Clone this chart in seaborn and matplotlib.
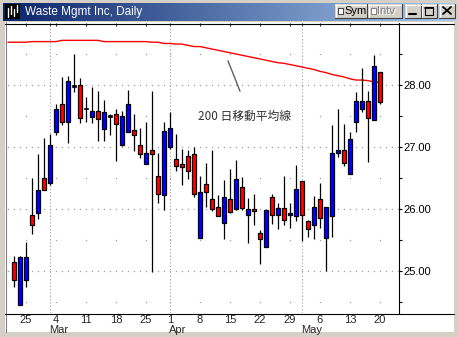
import matplotlib
matplotlib.use('Agg')
import matplotlib.pyplot as plt
import matplotlib.patches as mpatches
from matplotlib.lines import Line2D
import numpy as np
import pandas as pd
import seaborn as sns

# trading days Feb 20 - May 20 2002 (market shut on Good Friday)
days = pd.bdate_range('2002-02-20', '2002-05-20').drop(pd.Timestamp('2002-03-29'))
candle_days = days[1:]

opens = [25.14, 24.45, 24.85, 25.90, 25.94, 26.50, 26.42, 27.25, 27.69, 27.41,
         27.99, 28.00, 27.62, 27.49, 27.58, 27.29, 27.50, 27.54, 27.04, 27.25,
         27.27, 27.04, 26.72, 26.95, 26.54, 26.22, 27.00, 26.80, 26.72, 26.85,
         26.88, 25.54, 26.40, 26.16, 26.04, 25.78, 26.16, 26.00, 26.35, 25.90,
         26.00, 25.62, 25.38, 26.20, 25.91, 26.01, 25.90, 25.88, 26.45, 25.81,
         25.75, 26.16, 25.54, 25.89, 26.91, 26.95, 26.57, 27.40, 27.61, 27.74,
         27.43, 28.21]
highs = [25.24, 25.24, 25.47, 26.50, 26.89, 27.15, 27.21, 27.69, 28.13, 28.15,
         28.50, 28.11, 27.81, 27.97, 27.90, 27.76, 27.54, 27.61, 27.58, 27.92,
         27.54, 27.31, 27.40, 27.90, 26.90, 27.40, 27.57, 27.21, 26.96, 26.95,
         27.00, 26.54, 26.75, 26.95, 26.22, 26.47, 26.65, 26.79, 26.52, 26.17,
         26.25, 25.66, 25.98, 26.24, 26.09, 26.54, 26.09, 26.71, 26.45, 25.82,
         26.21, 26.42, 26.04, 27.35, 27.62, 27.37, 27.24, 27.89, 28.27, 27.90,
         28.48, 28.21]
lows = [24.75, 24.45, 24.75, 25.59, 25.84, 26.30, 26.38, 27.20, 27.36, 27.07,
        27.88, 27.39, 27.41, 27.39, 27.09, 27.10, 27.20, 26.78, 27.02, 27.25,
        26.94, 26.83, 26.72, 24.99, 26.09, 25.99, 26.97, 26.62, 26.39, 26.49,
        26.20, 25.54, 26.04, 25.96, 25.88, 25.51, 25.93, 25.98, 25.98, 25.45,
        25.75, 25.11, 25.38, 25.76, 25.68, 25.75, 25.70, 25.80, 25.48, 25.55,
        25.52, 25.70, 25.00, 25.55, 26.84, 26.70, 26.57, 27.25, 27.56, 26.76,
        27.43, 27.70]
closes = [24.85, 25.22, 25.22, 25.75, 26.30, 26.30, 27.03, 27.62, 27.41, 28.06,
          27.99, 27.46, 27.62, 27.58, 27.45, 27.56, 27.50, 27.37, 27.50, 27.69,
          27.20, 26.88, 26.90, 26.88, 26.24, 27.26, 27.30, 26.70, 26.67, 26.62,
          26.25, 26.28, 26.28, 26.00, 25.88, 26.20, 25.95, 26.48, 26.01, 26.00,
          25.96, 25.51, 25.98, 25.90, 26.01, 25.83, 25.94, 26.33, 25.90, 25.67,
          26.04, 25.85, 26.04, 26.91, 26.95, 26.75, 27.13, 27.74, 27.74, 27.46,
          28.31, 27.72]
# 200-day moving average, one value per day in `days`
ma200 = [28.69, 28.69, 28.69, 28.69, 28.70, 28.70, 28.70, 28.70, 28.70,
         28.72, 28.72, 28.72, 28.72, 28.72, 28.72, 28.72,
         28.70, 28.70, 28.70, 28.70, 28.70, 28.70, 28.70, 28.70,
         28.69, 28.69, 28.67, 28.67, 28.66, 28.66, 28.64, 28.62, 28.62, 28.60,
         28.58, 28.56, 28.54, 28.52, 28.50, 28.48, 28.46, 28.44, 28.42, 28.40,
         28.38, 28.36, 28.35, 28.33, 28.31, 28.29, 28.27, 28.25, 28.22, 28.20,
         28.17, 28.15, 28.13, 28.10, 28.08, 28.08, 28.07, 28.05, 28.04]

price_ticks = [25, 26, 27, 28]
title = 'Waste Mgmt Inc, Daily'
note = '200 日移動平均線'

W, H = 458, 337
UP, DOWN = '#0000FF', '#FF0000'
GRID = '#A0A0A0'
FACE = '#D4D0C8'

sns.set_style('white')
plt.rcParams['font.family'] = ['Liberation Sans', 'DejaVu Sans']

fig = plt.figure(figsize=(W / 100, H / 100), dpi=100)
fig.patch.set_facecolor(FACE)


def fx(x):
    return x / W


def fy(y):
    return 1 - y / H


def box(x0, y0, x1, y1, z=5, **kw):
    fig.add_artist(mpatches.Rectangle((fx(x0), fy(y1)), (x1 - x0) / W, (y1 - y0) / H,
                                      transform=fig.transFigure, zorder=z, **kw))


def line(xs, ys, z=6, **kw):
    fig.add_artist(Line2D([fx(v) for v in xs], [fy(v) for v in ys],
                          transform=fig.transFigure, zorder=z, **kw))


# window chrome
box(5, 22, 454, 332, z=-5, fc='white', ec='none')
line([5.5, 5.5], [22, 332], color='#808080', lw=0.8)
line([5, 454], [23.5, 23.5], color='black', lw=0.8)
line([5, 454], [313.5, 313.5], color='black', lw=0.8)

tb = fig.add_axes([fx(3), fy(21), 452 / W, 18 / H])
c0 = np.array([0x0A, 0x24, 0x6A]) / 255
c1 = np.array([0xA6, 0xCA, 0xF0]) / 255
t = np.linspace(0, 1, 256)[:, None]
tb.imshow((c0 + (c1 - c0) * t)[None, :, :], aspect='auto')
tb.axis('off')

box(5, 4, 20, 19, fc='black', ec='none')
for gx, g0, g1 in [(8, 8, 17), (11, 6, 14), (14, 9, 16), (17, 5, 12)]:
    line([gx, gx], [g0, g1], color='white', lw=1)
fig.text(fx(25), fy(12), title, color='white', fontsize=8.5, va='center', ha='left', zorder=7)


def button(x0, y0, x1, y1):
    box(x0, y0, x1, y1, fc=FACE, ec='none')
    line([x0, x1], [y0 + 0.5, y0 + 0.5], color='white', lw=0.8)
    line([x0 + 0.5, x0 + 0.5], [y0, y1], color='white', lw=0.8)
    line([x0, x1], [y1 - 0.5, y1 - 0.5], color='#404040', lw=0.8)
    line([x1 - 0.5, x1 - 0.5], [y0, y1], color='#404040', lw=0.8)


button(335, 4, 367, 18)
box(338, 8, 343, 14, z=7, fc='white', ec='#404040', lw=0.7)
fig.text(fx(344), fy(11.5), 'Sym', fontsize=8, va='center', ha='left', color='black', zorder=7)
button(368, 4, 402, 18)
box(371, 8, 376, 14, z=7, fc='white', ec='#808080', lw=0.7)
fig.text(fx(377.6), fy(12.2), 'Intv', fontsize=8, va='center', ha='left', color='white', zorder=7)
fig.text(fx(377), fy(11.5), 'Intv', fontsize=8, va='center', ha='left', color='#808080', zorder=7)
button(405, 4, 421, 18)
line([409, 416], [14, 14], z=7, color='black', lw=1.5)
button(421, 4, 437, 18)
box(425, 7, 433, 15, z=7, fc='none', ec='black', lw=0.8)
line([425, 433], [7.8, 7.8], z=7, color='black', lw=1.2)
button(439, 4, 455, 18)
line([443, 451], [7, 14], z=7, color='black', lw=1.3)
line([443, 451], [14, 7], z=7, color='black', lw=1.3)

# chart
ax = fig.add_axes([fx(6), fy(313), (399 - 6) / W, (313 - 23) / H])
ax.set_facecolor('none')
for side in ['left', 'top', 'bottom']:
    ax.spines[side].set_visible(False)
ax.spines['right'].set_color('black')
ax.spines['right'].set_linewidth(0.8)

x = np.arange(len(candle_days))
ma_x = np.arange(-1, len(candle_days))

mondays = [i for i, d in enumerate(candle_days) if d.weekday() == 0]
month_starts = [i for i in range(len(candle_days))
                if candle_days[i].month != days[i].month]

# dotted grid: dense rows at whole dollars, dots at Mondays on half dollars
dense_x = np.arange(-1, 65)
for p in np.arange(24.5, 29.0, 0.5):
    xs = dense_x if p == int(p) else np.array(mondays)
    ax.plot(xs, np.full(len(xs), p), ls='none', marker='s', ms=0.9, mew=0,
            color=GRID, zorder=1)
for m in month_starts:
    ax.axvline(m, color=GRID, ls=(0, (1, 2)), lw=0.8, zorder=1)

sns.lineplot(x=ma_x, y=ma200, color='red', lw=1, ax=ax, zorder=2)

o = np.array(opens)
c = np.array(closes)
ax.vlines(x, lows, highs, color='black', lw=0.9, zorder=3)
moved = o != c
colors = np.where(c > o, UP, DOWN)
ax.bar(x[moved], np.abs(c - o)[moved], bottom=np.minimum(o, c)[moved], width=0.62,
       color=colors[moved], edgecolor='black', linewidth=0.9, zorder=4)
ax.bar(x[~moved], 0.03, bottom=o[~moved] - 0.015, width=0.8, color='black',
       edgecolor='black', linewidth=0.5, zorder=4)

ax.annotate('', xy=(35.67, 28.39), xytext=(37.67, 27.90),
            arrowprops=dict(arrowstyle='-', color='#606060', lw=1, shrinkA=0, shrinkB=0))
ax.text(30.67, 27.49, note, ha='left', va='center', fontsize=8.5, color='#333333',
        family=['Noto Sans CJK JP', 'DejaVu Sans'])

ax.set_xlim(-1.33, 64.17)
ax.set_ylim(24.323, 29.0)

ax.yaxis.tick_right()
ax.set_yticks(np.arange(24.5, 29.0, 0.5))
ax.set_yticklabels(['%.2f' % v if v in price_ticks else '' for v in np.arange(24.5, 29.0, 0.5)])
ax.tick_params(axis='y', right=True, left=False, direction='out', length=2.5, width=0.8,
               pad=0.5, labelsize=8, colors='black')

ax.set_xticks(mondays)
ax.set_xticklabels([str(candle_days[i].day) for i in mondays])
ax.set_xticks(month_starts, minor=True)
ax.tick_params(axis='x', which='both', bottom=False, top=True, direction='in', length=2,
               width=0.8, labelbottom=True, labeltop=False, labelsize=8, pad=1.5)
for m in month_starts:
    ax.annotate(candle_days[m].strftime('%b'), xy=(m, 0), xycoords=('data', 'axes fraction'),
                xytext=(-0.5, -12), textcoords='offset points', ha='left', va='center',
                fontsize=8)
ax.set_xlabel('')
ax.set_ylabel('')

fig.savefig('out.png', dpi=100, facecolor=fig.get_facecolor())
